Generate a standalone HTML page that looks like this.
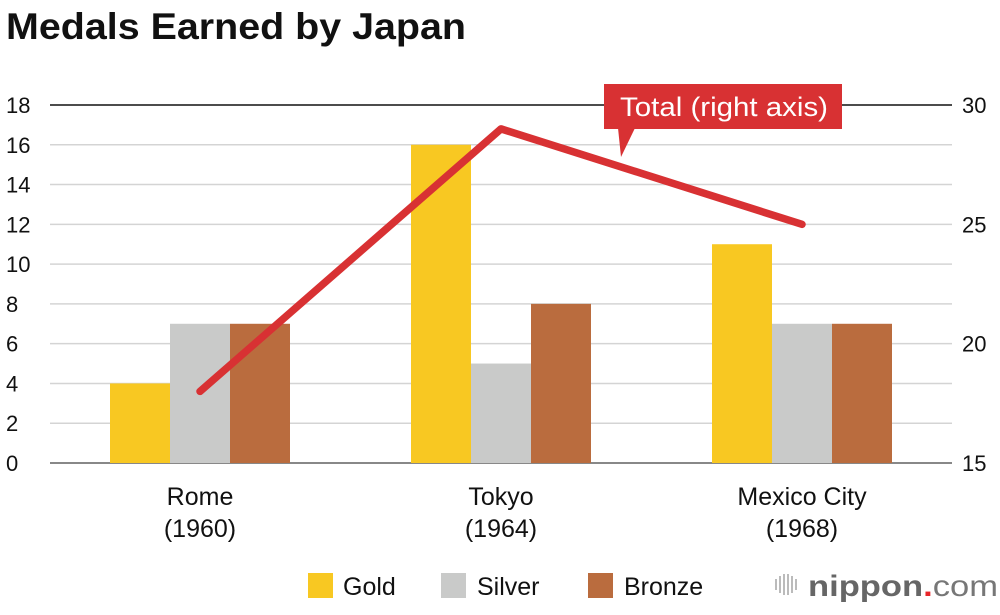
<!DOCTYPE html>
<html><head><meta charset="utf-8"><style>
body{margin:0;background:#fff;font-family:"Liberation Sans",Arial,sans-serif}
</style></head><body>
<svg width="1000" height="610" xmlns="http://www.w3.org/2000/svg" id="chart" font-family="Liberation Sans, Arial, sans-serif">
<text x="6" y="39" font-size="37" font-weight="bold" fill="#111" textLength="460" lengthAdjust="spacingAndGlyphs">Medals Earned by Japan</text>
<g id="grid"></g>
<g id="bars"></g>
<g id="line"></g>
<g>
<rect x="604" y="84" width="238" height="45" fill="#d83133"/>
<polygon points="618,128 635,128 621,157" fill="#d83133"/>
<text x="620" y="116" font-size="27" fill="#fff" textLength="208" lengthAdjust="spacingAndGlyphs">Total (right axis)</text>
</g>
<g id="xlabels"></g>
<g font-size="25" fill="#111">
<rect x="308" y="573" width="25" height="25" fill="#f8c822"/>
<text x="343" y="595">Gold</text>
<rect x="441" y="573" width="25" height="25" fill="#c9cac9"/>
<text x="477" y="595">Silver</text>
<rect x="588" y="573" width="25" height="25" fill="#ba6c3e"/>
<text x="624" y="595">Bronze</text>
</g>
<g>
<g fill="#bbb"><rect x="775" y="579" width="2" height="11"/><rect x="779" y="576" width="2" height="17"/><rect x="783" y="574" width="2" height="21"/><rect x="787" y="574" width="2" height="21"/><rect x="791" y="576" width="2" height="17"/><rect x="795" y="579" width="2" height="11"/></g>
<text x="808" y="596" font-size="30" fill="#666" textLength="190" lengthAdjust="spacingAndGlyphs"><tspan font-weight="bold">nippon</tspan><tspan fill="#e8262a" font-weight="bold">.</tspan><tspan fill="#777">com</tspan></text>
</g>
</svg>
<script>
const categories=["Rome","Tokyo","Mexico City"];
const years=["(1960)","(1964)","(1968)"];
const gold=[4,16,11];
const silver=[7,5,7];
const bronze=[7,8,7];
const total=[18,29,25];
const leftTicks=[0,2,4,6,8,10,12,14,16,18];
const rightTicks=[15,20,25,30];
const NS="http://www.w3.org/2000/svg";
const y0=463,y18=105,xL=50,xR=952;
const yL=v=>y0-(v/18)*(y0-y18);
const yR=v=>y0-((v-15)/15)*(y0-y18);
const cx=i=>200+i*301;
function mk(t,a,p){const e=document.createElementNS(NS,t);for(const k in a)e.setAttribute(k,a[k]);document.getElementById(p).appendChild(e);return e;}
leftTicks.forEach(v=>{
 const l=mk('line',{x1:xL,x2:xR,y1:yL(v),y2:yL(v),stroke:v==18?'#111':(v==0?'#888':'#d4d4d4'),'stroke-width':v==0?2:1.5},'grid');
 
 
 const t=mk('text',{x:6,y:yL(v)+8,'font-size':22,fill:'#111'},'grid');t.textContent=v;
 
 
});
rightTicks.forEach(v=>{
 const t=mk('text',{x:962,y:yR(v)+8,'font-size':22,fill:'#111'},'grid');t.textContent=v;
 
 
});
const series=[[gold,'#f8c822','gold'],[silver,'#c9cac9','silver'],[bronze,'#ba6c3e','bronze']];
categories.forEach((c,i)=>{
 series.forEach((s,j)=>{
  const v=s[0][i];
  const r=mk('rect',{x:cx(i)-90+j*60,y:yL(v),width:60,height:y0-yL(v),fill:s[1]},'bars');
  
  
 });
 const t=mk('text',{x:cx(i),y:505,'font-size':25,fill:'#111','text-anchor':'middle'},'xlabels');t.textContent=c;
 
 
 const t2=mk('text',{x:cx(i),y:537,'font-size':25,fill:'#111','text-anchor':'middle'},'xlabels');t2.textContent=years[i];
 
 
});
const pl=mk('polyline',{points:total.map((v,i)=>cx(i)+','+yR(v)).join(' '),fill:'none',stroke:'#d83133','stroke-width':7.5,'stroke-linecap':'round','stroke-linejoin':'round'},'line');


</script>
</body></html>
